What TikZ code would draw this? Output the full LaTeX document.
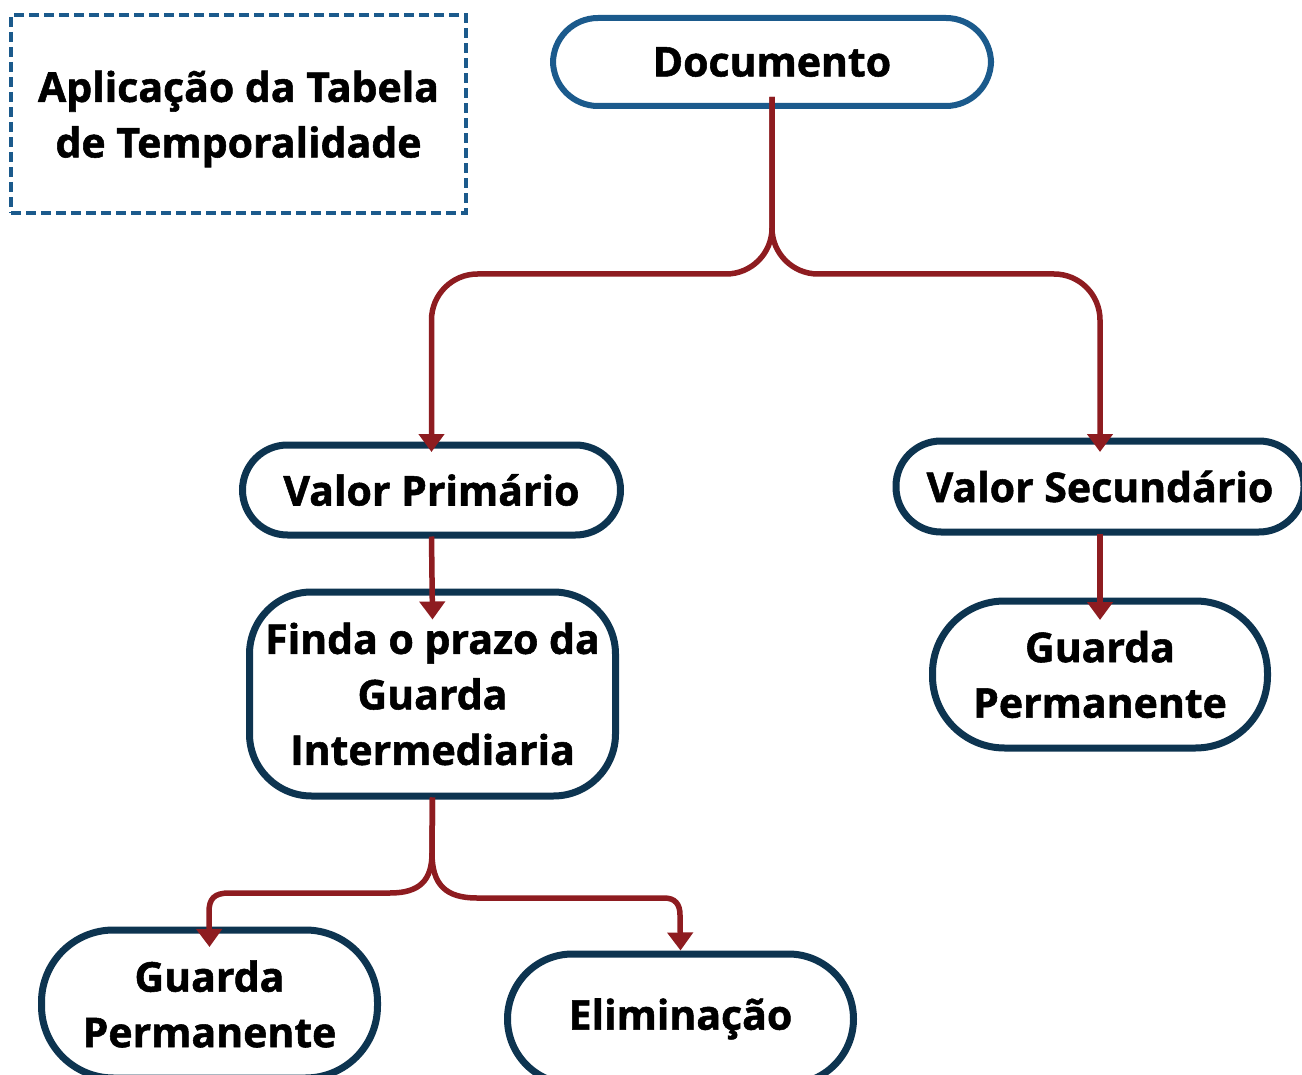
\documentclass[tikz,border=0pt]{standalone}
\usepackage{fontspec}
\setmainfont{Open Sans}[BoldFeatures={FakeBold=1.3}]
\usetikzlibrary{arrows.meta}
\definecolor{cblue}{HTML}{1B5A8C}
\definecolor{cnavy}{HTML}{0D3450}
\definecolor{cred}{HTML}{8E1C20}
\begin{document}
\begin{tikzpicture}[x=1pt,y=-1pt,
  txt/.style={font=\fontsize{41}{55.5}\selectfont\bfseries, align=center, text=black},
  box/.style={txt, draw=cnavy, line width=7pt, fill=white, inner sep=0pt},
  conn/.style={draw=cred, line width=5.5pt, -{Triangle[width=25pt,length=18pt]}},
]
\useasboundingbox (0,0) rectangle (1302,1075);
\fill[white] (0,0) rectangle (1302,1075);

% title
\node[draw=cblue, line width=4pt, dash pattern=on 10pt off 5pt,
  minimum width=455pt, minimum height=198pt, inner sep=0pt] (title) at (238.5,114) {};
\node[txt] (titletext) at (238.5,119) {Aplicação da Tabela\\de Temporalidade};

% nodes
\node[box, draw=cblue, line width=6pt, rounded corners=45pt, minimum width=438pt, minimum height=88pt] (doc) at (772,62) {Documento};
\node[box, rounded corners=45pt, minimum width=378pt, minimum height=90pt] (vp) at (431.5,490) {Valor Primário};
\node[box, rounded corners=45pt, minimum width=408pt, minimum height=91pt] (vs) at (1100,486.5) {Valor Secundário};
\node[box, rounded corners=62pt, minimum width=366pt, minimum height=204pt] (finda) at (432.5,694) {Finda o prazo da\\Guarda\\Intermediaria};
\node[box, rounded corners=72pt, minimum width=335pt, minimum height=147pt] (gpr) at (1100,674.5) {Guarda\\Permanente};
\node[box, rounded corners=72pt, minimum width=336pt, minimum height=148pt] (gpl) at (209.5,1004) {Guarda\\Permanente};
\node[box, rounded corners=65pt, minimum width=346pt, minimum height=130pt] (elim) at (680.5,1019) {Eliminação};

% connectors
\draw[conn, rounded corners=46pt] ([yshift=12pt]doc.south) -- (772,274) -- (vp.north |- 0,274) -- ([yshift=-10.5pt]vp.north);
\draw[conn, rounded corners=46pt] ([yshift=12pt]doc.south) -- (772,274) -- (vs.north |- 0,274) -- ([yshift=-14.5pt]vs.north);
\draw[conn] ([yshift=2pt]vp.south) -- ([yshift=-31pt]finda.north);
\draw[conn] ([yshift=2pt]vs.south) -- ([yshift=-22.5pt]gpr.north);
\draw[conn] ([yshift=2pt]finda.south) -- (432,853) .. controls (432,880) and (420,893) .. (390,893)
  -- (229,893) .. controls (214,893) and (209,899) .. (209,912) -- ([yshift=-20.5pt]gpl.north);
\draw[conn] ([yshift=2pt]finda.south) -- (432,853) .. controls (432,885) and (446,898) .. (477,898)
  -- (664,898) .. controls (675,898) and (680,904) .. (680,915) -- (elim.north);
\end{tikzpicture}
\end{document}
